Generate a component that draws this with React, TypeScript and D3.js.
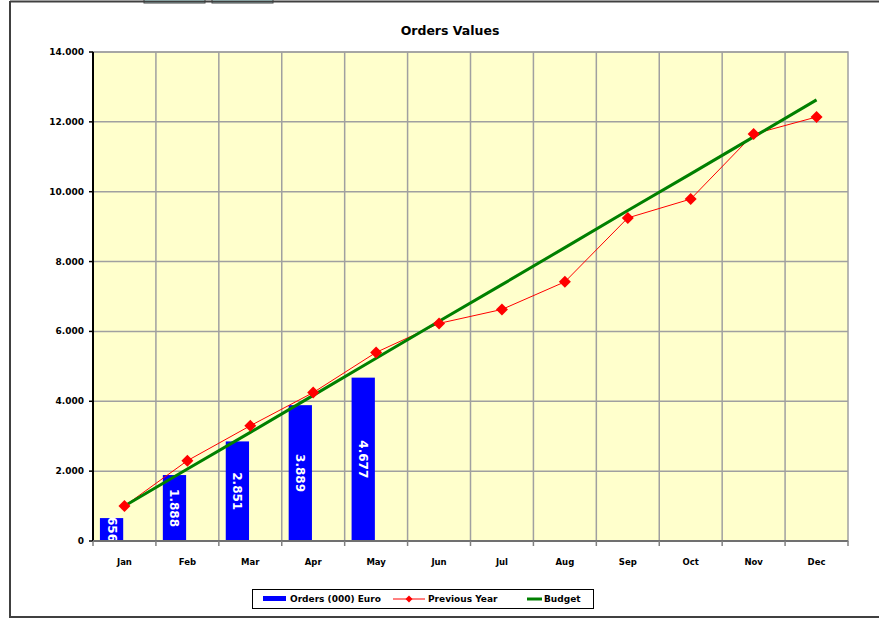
import * as d3 from "d3";

const months = ["Jan", "Feb", "Mar", "Apr", "May", "Jun", "Jul", "Aug", "Sep", "Oct", "Nov", "Dec"];
const orders = [656, 1888, 2851, 3889, 4677];
const previousYear = [1000, 2300, 3300, 4250, 5400, 6230, 6630, 7420, 9250, 9790, 11650, 12140];
const budget = [1000, 2060, 3110, 4170, 5230, 6290, 7340, 8400, 9460, 10510, 11570, 12630];
const yTicks = [0, 2000, 4000, 6000, 8000, 10000, 12000, 14000];

const W = 879,
  H = 619;
const plot = { left: 93, right: 848, top: 52, bottom: 541 };
const font = "'DejaVu Sans', Verdana, sans-serif";

const fmt = (v: number) => d3.format(",")(v).replace(/,/g, ".");

export default function App() {
  const x = d3.scaleBand().domain(months).range([plot.left, plot.right]).padding(0);
  const y = d3.scaleLinear().domain([0, 14000]).range([plot.bottom, plot.top]);
  const bw = x.bandwidth();
  const cx = (m: string) => (x(m) as number) + bw / 2;

  const line = d3
    .line<number>()
    .x((_, i) => cx(months[i]))
    .y((d) => y(d));

  const diamond = (px: number, py: number, r: number) =>
    `M${px},${py - r}L${px + r},${py}L${px},${py + r}L${px - r},${py}Z`;

  return (
    <svg
      width={W}
      height={H}
      style={{ position: "absolute", left: 0, top: 0, background: "#fff" }}
      fontFamily={font}
    >
      {/* window frame */}
      <rect x={144} y={-2} width={61} height={5} fill="#ccffff" stroke="#404040" strokeWidth={1} />
      <rect x={212} y={-2} width={61} height={5} fill="#ccffff" stroke="#404040" strokeWidth={1} />
      <line x1={10} x2={W} y1={1.5} y2={1.5} stroke="#404040" strokeWidth={2} />
      <line x1={10} x2={10} y1={1} y2={618} stroke="#404040" strokeWidth={2} />
      <line x1={10} x2={W} y1={617} y2={617} stroke="#404040" strokeWidth={2} />

      <text x={450} y={35} textAnchor="middle" fontSize={12.5} fontWeight="bold" fill="#000">
        Orders Values
      </text>

      {/* plot area */}
      <rect
        x={plot.left}
        y={plot.top}
        width={plot.right - plot.left}
        height={plot.bottom - plot.top}
        fill="#ffffcc"
        stroke="#a0a0a0"
        strokeWidth={1.5}
      />
      {yTicks.slice(1).map((t) => (
        <line key={t} x1={plot.left} x2={plot.right} y1={y(t)} y2={y(t)} stroke="#a0a0a0" strokeWidth={1.5} />
      ))}
      {months.slice(1).map((m) => (
        <line key={m} x1={x(m)} x2={x(m)} y1={plot.top} y2={plot.bottom} stroke="#a0a0a0" strokeWidth={1.5} />
      ))}

      {/* bars */}
      {orders.map((v, i) => {
        const bx = (x(months[i]) as number) + bw * 0.11;
        const w = bw * 0.37;
        const top = y(v);
        const lx = bx + w / 2;
        const ly = (top + plot.bottom) / 2;
        return (
          <g key={i}>
            <rect x={bx} y={top} width={w} height={plot.bottom - top} fill="#0000ff" />
            <text
              x={lx}
              y={ly}
              transform={`rotate(90, ${lx}, ${ly})`}
              textAnchor="middle"
              dominantBaseline="central"
              fontSize={12}
              fontWeight="bold"
              fill="#fff"
            >
              {fmt(v)}
            </text>
          </g>
        );
      })}

      {/* axes */}
      <line x1={plot.left} x2={plot.left} y1={plot.top} y2={plot.bottom} stroke="#000" strokeWidth={2} />
      <line x1={plot.left} x2={plot.right} y1={plot.bottom} y2={plot.bottom} stroke="#707070" strokeWidth={2} />
      {yTicks.map((t) => (
        <g key={t}>
          <line x1={plot.left - 4} x2={plot.left} y1={y(t)} y2={y(t)} stroke="#000" strokeWidth={1.5} />
          <text x={84} y={y(t)} textAnchor="end" dominantBaseline="central" fontSize={9} fontWeight="bold" fill="#000">
            {fmt(t)}
          </text>
        </g>
      ))}
      {[...months.map((m) => x(m) as number), plot.right].map((px, i) => (
        <line key={i} x1={px} x2={px} y1={plot.bottom} y2={plot.bottom + 5} stroke="#808080" strokeWidth={1.5} />
      ))}
      {months.map((m) => (
        <text key={m} x={cx(m)} y={565} textAnchor="middle" fontSize={8.5} fontWeight="bold" fill="#000">
          {m}
        </text>
      ))}

      {/* lines */}
      <path d={line(previousYear) as string} fill="none" stroke="#ff0000" strokeWidth={1} />
      <path d={line(budget) as string} fill="none" stroke="#008000" strokeWidth={3} />
      {previousYear.map((v, i) => (
        <path key={i} d={diamond(cx(months[i]), y(v), 6)} fill="#ff0000" />
      ))}

      {/* legend */}
      <rect x={252.5} y={589.5} width={341} height={19} fill="#fff" stroke="#000" strokeWidth={1} />
      <rect x={263} y={596} width={23} height={5} fill="#0000ff" />
      <text x={290} y={599} dominantBaseline="central" fontSize={9} fontWeight="bold" fill="#000">
        Orders (000) Euro
      </text>
      <line x1={393} x2={425} y1={599} y2={599} stroke="#ff0000" strokeWidth={1} />
      <path d={diamond(409, 599, 3.5)} fill="#ff0000" />
      <text x={428} y={599} dominantBaseline="central" fontSize={9} fontWeight="bold" fill="#000">
        Previous Year
      </text>
      <line x1={527} x2={542} y1={599} y2={599} stroke="#008000" strokeWidth={3} />
      <text x={544} y={599} dominantBaseline="central" fontSize={9} fontWeight="bold" fill="#000">
        Budget
      </text>
    </svg>
  );
}
